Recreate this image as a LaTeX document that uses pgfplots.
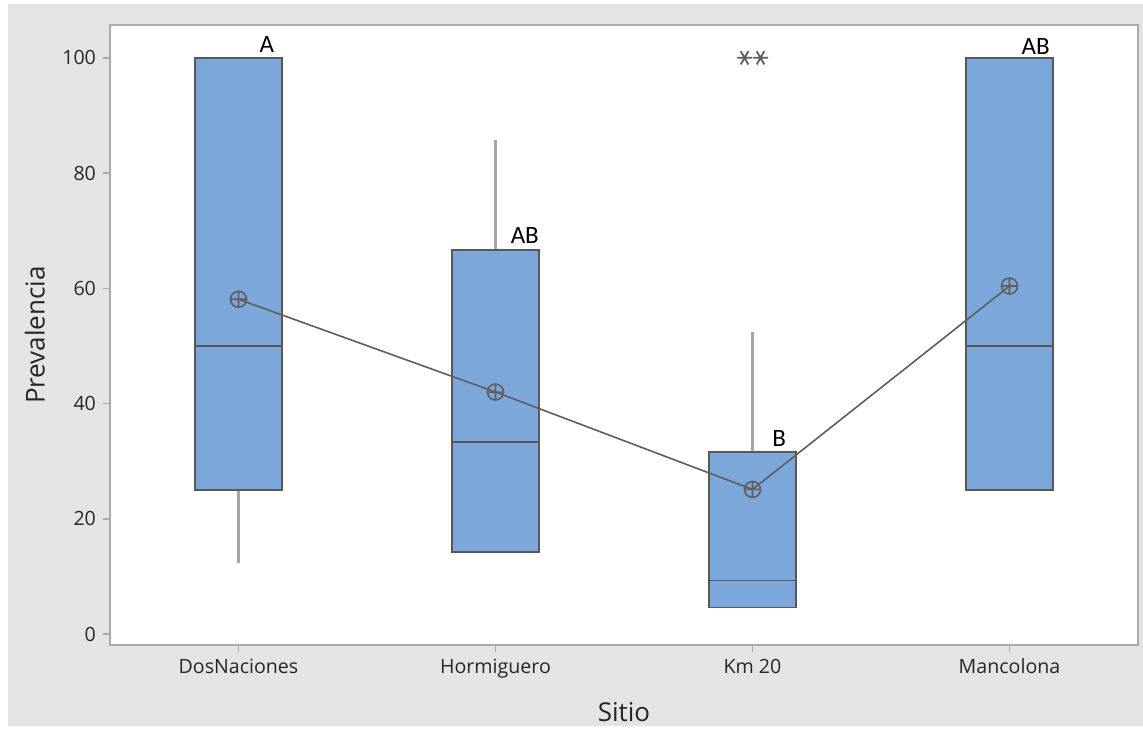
\documentclass[border=0pt]{standalone}
\usepackage{fontspec}
\setmainfont{Open Sans}
\newfontfamily\notefont{Carlito}
\usepackage{pgfplots}
\pgfplotsset{compat=1.18}
\usepgfplotslibrary{statistics}

\definecolor{boxblue}{HTML}{7BA7DA}
\definecolor{boxedge}{HTML}{585858}
\definecolor{whisk}{HTML}{A6A6A6}
\definecolor{meanln}{HTML}{5E5E5E}
\definecolor{bggray}{HTML}{E4E4E4}
\definecolor{framegray}{HTML}{ABABAB}
\definecolor{txt}{HTML}{262626}

\tikzset{note/.style={anchor=base, text=black, font=\notefont\fontsize{12.5}{14}\selectfont}}
\pgfplotsset{mybox/.style={draw=boxedge, fill=boxblue, line width=0.9pt, mark=none}}

\begin{document}
\begin{tikzpicture}
% page: 1143x726 px at 0.5pt per px
\fill[white] (0,0) rectangle (571.5pt,363pt);
\fill[bggray] (4pt,0) rectangle (571.5pt,361pt);
\begin{axis}[
    at={(55pt,40.5pt)}, anchor=south west,
    scale only axis, width=514pt, height=310pt,
    xmin=0.5, xmax=4.5, ymin=-1.9, ymax=105.7,
    axis background/.style={fill=white},
    axis line style={draw=framegray, line width=1pt},
    xtick={1,2,3,4},
    xticklabels={DosNaciones,Hormiguero,Km 20,Mancolona},
    ytick={0,20,...,100},
    xtick pos=bottom, ytick pos=left,
    tick align=outside,
    major tick length=3.5pt,
    tick style={draw=framegray, line width=0.8pt},
    tick label style={font=\fontsize{9.8}{11}\selectfont, text=txt},
    /pgf/number format/assume math mode=true,
    label style={font=\fontsize{13}{15}\selectfont, text=txt},
    xlabel={Sitio}, ylabel={Prevalencia},
    xlabel style={at={(axis description cs:0.5,-0.108)}, anchor=center},
    ylabel style={at={(axis description cs:-0.073,0.5)}, anchor=center},
    boxplot/draw direction=y,
    boxplot/every whisker/.style={draw=whisk, line width=1.6pt},
    boxplot/every median/.style={draw=boxedge, line width=0.7pt},
]

% DosNaciones
\addplot+[mybox, boxplot prepared={lower whisker=12.3, lower quartile=25, median=50,
    upper quartile=100, upper whisker=100, draw position=1,
    box extend=0.337, whisker extend=0}] coordinates {};
% Hormiguero
\addplot+[mybox, boxplot prepared={lower whisker=14.3, lower quartile=14.3, median=33.3,
    upper quartile=66.7, upper whisker=85.7, draw position=2,
    box extend=0.337, whisker extend=0}] coordinates {};
% Km 20
\addplot+[mybox, boxplot prepared={lower whisker=4.6, lower quartile=4.6, median=9.3,
    upper quartile=31.6, upper whisker=52.4, draw position=3,
    box extend=0.337, whisker extend=0}] coordinates {};
% Mancolona
\addplot+[mybox, boxplot prepared={lower whisker=25, lower quartile=25, median=50,
    upper quartile=100, upper whisker=100, draw position=4,
    box extend=0.337, whisker extend=0}] coordinates {};

% outliers of Km 20 (two values at 100)
\addplot[only marks, mark=asterisk, mark size=3.8pt, draw=meanln,
    mark options={rotate=90, line width=0.9pt}]
    coordinates {(2.969,100) (3.031,100)};

% means
\addplot[meanln, line width=0.8pt, mark=oplus, mark size=4pt,
    mark options={fill=boxblue, draw=meanln, line width=0.8pt}]
    coordinates {(1,58.1) (2,42.0) (3,25.1) (4,60.4)};

% grouping letters
\node[note] at (axis cs:1.11,100.9) {A};
\node[note] at (axis cs:2.114,67.8) {AB};
\node[note] at (axis cs:3.104,32.6) {B};
\node[note] at (axis cs:4.102,100.6) {AB};

\end{axis}
\end{tikzpicture}
\end{document}
